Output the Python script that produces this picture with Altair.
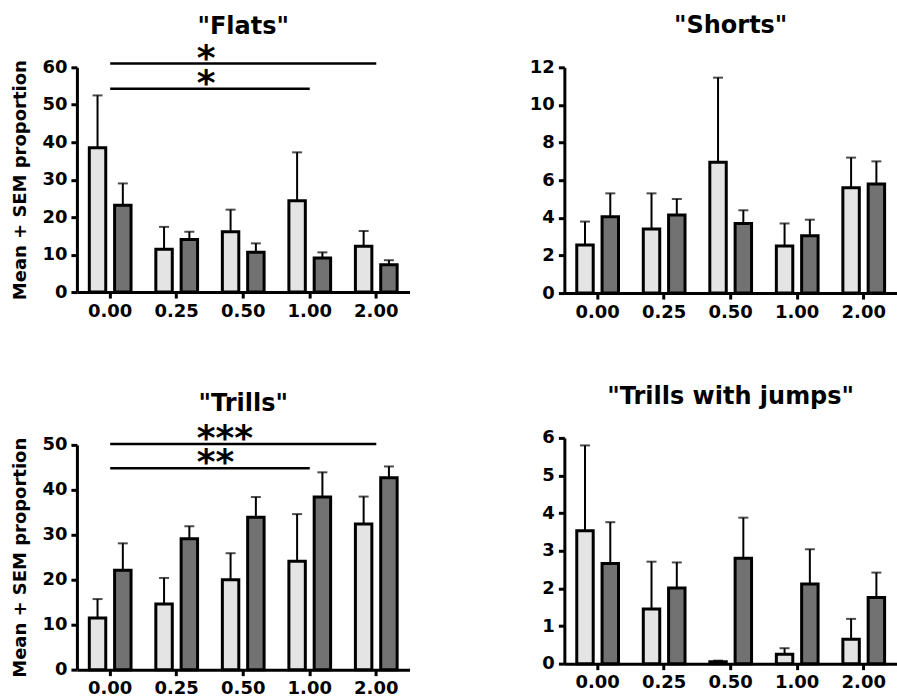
import altair as alt
import pandas as pd

# ---------------- data ----------------
doses = ["0.00", "0.25", "0.50", "1.00", "2.00"]
series = ["Group 1", "Group 2"]

flats_g1 = [38.5, 11.4, 16.1, 24.4, 12.2]
flats_g1_sem = [14.0, 6.0, 5.9, 12.9, 4.1]
flats_g2 = [23.2, 14.0, 10.6, 9.1, 7.3]
flats_g2_sem = [5.8, 2.1, 2.4, 1.5, 1.2]

shorts_g1 = [2.55, 3.4, 6.95, 2.5, 5.6]
shorts_g1_sem = [1.25, 1.9, 4.5, 1.2, 1.6]
shorts_g2 = [4.05, 4.15, 3.7, 3.05, 5.8]
shorts_g2_sem = [1.25, 0.85, 0.7, 0.85, 1.2]

trills_g1 = [11.5, 14.6, 20.0, 24.1, 32.4]
trills_g1_sem = [4.2, 5.8, 5.9, 10.5, 6.1]
trills_g2 = [22.1, 29.1, 33.9, 38.4, 42.7]
trills_g2_sem = [6.0, 2.8, 4.5, 5.5, 2.5]

twj_g1 = [3.53, 1.45, 0.05, 0.25, 0.65]
twj_g1_sem = [2.27, 1.26, 0.03, 0.16, 0.54]
twj_g2 = [2.66, 2.01, 2.80, 2.12, 1.76]
twj_g2_sem = [1.10, 0.68, 1.08, 0.92, 0.66]

# significance brackets
flats_sig_from = ["0.00", "0.00"]
flats_sig_to = ["2.00", "1.00"]
flats_sig_y = [61.0, 54.3]
flats_sig_label = ["*", "*"]

trills_sig_from = ["0.00", "0.00"]
trills_sig_to = ["2.00", "1.00"]
trills_sig_y = [50.2, 44.8]
trills_sig_label = ["***", "**"]

sig_label_at = ["0.25", "0.25"]

FILLS = ["#e4e4e4", "#727272"]
FONT = "DejaVu Sans"
YTITLE = "Mean + SEM proportion"


def make_df(g1, g1_sem, g2, g2_sem):
    rows = []
    for name, vals, sems in ((series[0], g1, g1_sem), (series[1], g2, g2_sem)):
        for d, m, s in zip(doses, vals, sems):
            rows.append({"dose": d, "series": name, "mean": m, "top": m + s})
    return pd.DataFrame(rows)


def panel(title, g1, g1_sem, g2, g2_sem, ymax, ystep, ytitle, height,
          title_offset, sig=None):
    df = make_df(g1, g1_sem, g2, g2_sem)
    xscale = alt.Scale(domain=doses, paddingInner=0, paddingOuter=0)
    xaxis = alt.Axis(title=None, labelAngle=0, labelPadding=4)
    xoff = alt.XOffset("series:N",
                       scale=alt.Scale(domain=series, paddingInner=0.35,
                                       paddingOuter=0.49))
    yscale = alt.Scale(domain=[0, ymax], nice=False, zero=True)
    yaxis = alt.Axis(values=list(range(0, ymax + 1, ystep)), title=ytitle,
                     titlePadding=12, labelPadding=4)

    def X(field):
        return alt.X(field, scale=xscale, axis=xaxis)

    def Y(field):
        return alt.Y(field, scale=yscale, axis=yaxis)

    base = alt.Chart(df)
    errs = base.mark_rule(color="black", strokeWidth=2).encode(
        x=X("dose:N"), xOffset=xoff, y=Y("mean:Q"), y2="top:Q")
    caps = base.mark_tick(color="black", thickness=2, size=10).encode(
        x=X("dose:N"), xOffset=xoff, y=Y("top:Q"))
    bars = base.mark_bar(stroke="black", strokeWidth=3).encode(
        x=X("dose:N"), xOffset=xoff, y=Y("mean:Q"),
        fill=alt.Fill("series:N",
                      scale=alt.Scale(domain=series, range=FILLS),
                      legend=None))
    layers = [errs, caps, bars]
    if sig is not None:
        s_from, s_to, s_y, s_lab = sig
        sdf = pd.DataFrame({"s_from": s_from, "s_to": s_to, "sy": s_y,
                            "label": s_lab, "label_at": sig_label_at})
        rules = alt.Chart(sdf).mark_rule(color="black", strokeWidth=2.5).encode(
            x=alt.X("s_from:N", scale=xscale, axis=xaxis, bandPosition=0.5),
            x2=alt.X2("s_to:N", bandPosition=0.5),
            y=Y("sy:Q"))
        stars = alt.Chart(sdf).mark_text(
            align="left", baseline="alphabetic", dx=20, dy=6,
            font=FONT, fontSize=36, fontWeight="bold", color="black").encode(
            x=alt.X("label_at:N", scale=xscale, axis=xaxis, bandPosition=0.5),
            y=Y("sy:Q"), text="label:N")
        layers += [rules, stars]
    return alt.layer(*layers).properties(
        width=333, height=height,
        title=alt.Title(title, frame="group", offset=title_offset,
                        baseline="alphabetic", anchor="middle"))


flats = panel('"Flats"', flats_g1, flats_g1_sem, flats_g2, flats_g2_sem,
              60, 10, YTITLE, 225, -17,
              sig=(flats_sig_from, flats_sig_to, flats_sig_y, flats_sig_label))
trills = panel('"Trills"', trills_g1, trills_g1_sem, trills_g2, trills_g2_sem,
               50, 10, YTITLE, 225, -14,
               sig=(trills_sig_from, trills_sig_to, trills_sig_y,
                    trills_sig_label))
shorts = panel('"Shorts"', shorts_g1, shorts_g1_sem, shorts_g2, shorts_g2_sem,
               12, 2, None, 226, 1)
twj = panel('"Trills with jumps"', twj_g1, twj_g1_sem, twj_g2, twj_g2_sem,
            6, 1, None, 226, 1)

left = alt.vconcat(flats, trills, spacing=72)
right = alt.vconcat(shorts, twj, spacing=64)

chart = alt.hconcat(left, right, spacing=119).properties(
    padding={"left": 11, "top": 14, "right": 0, "bottom": 0}
).configure_view(stroke=None).configure_axis(
    labelFont=FONT, labelFontWeight="bold", labelFontSize=18,
    labelColor="black", titleFont=FONT, titleFontWeight="bold",
    titleFontSize=18, titleColor="black", domainColor="black",
    domainWidth=3, tickColor="black", tickWidth=3, tickSize=6, grid=False
).configure_title(
    font=FONT, fontSize=24, fontWeight="bold", color="black"
)

chart.save("out.html", embed_options={"renderer": "svg", "actions": False})
